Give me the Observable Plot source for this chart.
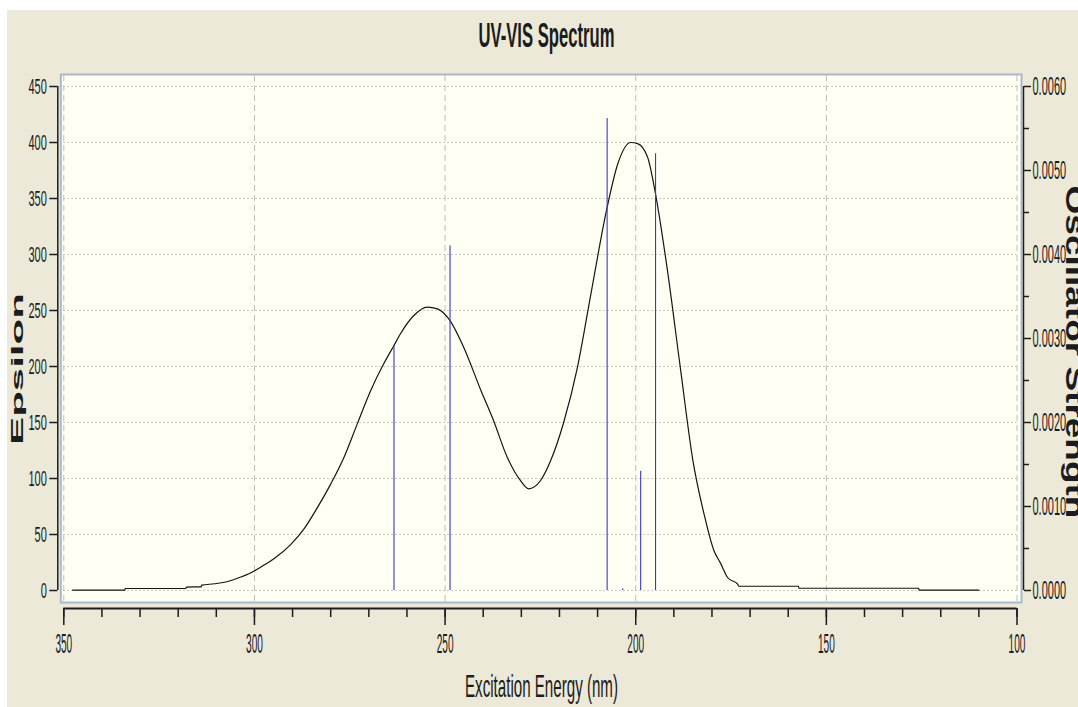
<!DOCTYPE html>
<html>
<head>
<meta charset="utf-8">
<script src="https://cdn.jsdelivr.net/npm/d3@7"></script>
<script src="https://cdn.jsdelivr.net/npm/@observablehq/plot@0.6"></script>
<style>
  html, body { margin: 0; padding: 0; background: #ffffff; }
  #wrap { position: relative; width: 1078px; height: 707px; overflow: hidden; background: #ffffff; }
  #panel { position: absolute; left: 7px; top: 10px; right: 0; bottom: 0; background: #ECE9D8; }
  #chart { position: absolute; left: 0; top: 0; }
</style>
</head>
<body>
<div id="wrap">
  <div id="panel"></div>
  <div id="chart"></div>
</div>
<script>
// Simulated absorption envelope (wavelength in nm, molar absorptivity epsilon)
const curveNm = [
  347.7, 334.0, 333.9, 318.0, 317.8, 314.0, 313.8, 310.5, 307.0, 303.6,
  300.0, 298.4, 294.9, 290.5, 287.0, 283.5, 280.0, 276.5, 273.0, 269.5,
  266.1, 263.4, 261.7, 258.2, 254.7, 252.0, 248.7, 245.1, 240.6, 237.3,
  233.7, 230.2, 228.1, 225.0, 222.3, 218.9, 215.3, 211.9, 207.5, 204.7,
  201.3, 199.5, 196.9, 194.8, 191.8, 188.3, 185.0, 182.1, 179.5, 177.7,
  175.9, 173.2, 173.0, 157.3, 157.2, 125.8, 125.7, 110.0
];
const curveEps = [
  0.3, 0.3, 1.8, 1.8, 3.0, 3.3, 4.8, 6.0, 8.0, 12.0,
  17.5, 20.8, 28.3, 41.0, 55.0, 74.0, 95.0, 119.0, 149.0, 178.6,
  202.4, 218.8, 229.2, 245.5, 253.0, 251.5, 241.0, 217.0, 178.6, 151.8,
  119.0, 98.0, 90.8, 98.0, 116.0, 150.0, 199.0, 262.0, 342.0, 381.0,
  400.0, 399.0, 387.0, 354.0, 288.7, 199.0, 116.0, 68.5, 35.7, 24.0,
  11.6, 5.4, 3.8, 3.8, 2.0, 2.0, 0.3, 0.3
];

// Computed transitions (wavelength in nm, oscillator strength)
const barNm = [263.4, 248.7, 207.5, 203.4, 198.7, 194.8];
const barStrength = [0.00292, 0.00410, 0.00562, 0.00002, 0.00142, 0.00520];

// Axis ticks
const nmTicks = [350, 300, 250, 200, 150, 100];
const nmMinorTicks = d3.range(100, 351, 10);
const epsTicks = [0, 50, 100, 150, 200, 250, 300, 350, 400, 450];
const strengthTicks = [0, 0.001, 0.002, 0.003, 0.004, 0.005, 0.006];
const strengthMinorTicks = [0.0005, 0.0015, 0.0025, 0.0035, 0.0045, 0.0055];

// The right-hand axis shares the epsilon scale: 0.006 lines up with 450
const EPS_PER_STRENGTH = 450 / 0.006;

const curve = curveNm.map((nm, i) => ({nm, eps: curveEps[i]}));
const bars = barNm.map((nm, i) => ({nm, strength: barStrength[i]}));

const FONT = "'Liberation Sans', Arial, sans-serif";
const INK = "#1c1c1c";

const plot = Plot.plot({
  width: 1078,
  height: 707,
  marginLeft: 63.3,
  marginRight: 61.5,
  marginTop: 86,
  marginBottom: 117,
  style: {background: "transparent", fontFamily: FONT, color: INK, overflow: "hidden"},
  x: {domain: [350, 100]},
  y: {domain: [0, 450]},
  marks: [
    // plot area
    Plot.frame({fill: "#FFFFF4", stroke: "#A9BACB", strokeWidth: 2,
      insetLeft: -3, insetRight: -4.5, insetTop: -12, insetBottom: -12}),
    // grids
    Plot.gridX({ticks: nmTicks, stroke: "#BDBDBD", strokeOpacity: 1, strokeDasharray: "6,4",
      insetTop: -11, insetBottom: -11}),
    Plot.gridY({ticks: epsTicks, stroke: "#B8B8B8", strokeOpacity: 1, strokeDasharray: "1.5,2.5"}),
    // absorption envelope (wavelength runs right-to-left, so screen x increases along the data)
    Plot.line(curve, {x: "nm", y: "eps", stroke: "#151515", strokeWidth: 1.2, curve: "monotone-x"}),
    // oscillator strength sticks
    Plot.ruleX(bars, {x: "nm", y1: 0, y2: d => d.strength * EPS_PER_STRENGTH,
      stroke: "#3A3ABE", strokeWidth: 1.1}),
    // left axis (epsilon)
    Plot.ruleX([350], {y1: 0, y2: 450, dx: -6, stroke: INK, strokeWidth: 1.5}),
    Plot.axisY({ticks: epsTicks, tickSize: 8, tickPadding: 3, dx: -6, label: null,
      fontSize: 22, strokeWidth: 1.5}),
    // right axis (oscillator strength)
    Plot.ruleX([100], {y1: 0, y2: 450, dx: 6.5, stroke: INK, strokeWidth: 1.5}),
    Plot.axisY({anchor: "right", ticks: strengthTicks.map(f => f * EPS_PER_STRENGTH),
      tickFormat: d => (d / EPS_PER_STRENGTH).toFixed(4),
      tickSize: 7, tickPadding: 2, dx: 6.5, label: null, fontSize: 25, strokeWidth: 1.5}),
    Plot.axisY({anchor: "right", ticks: strengthMinorTicks.map(f => f * EPS_PER_STRENGTH),
      tickFormat: () => "", tickSize: 5, dx: 6.5, label: null, strokeWidth: 1.5}),
    // bottom axis (wavelength)
    Plot.ruleY([0], {x1: 350, x2: 100, dy: 18, stroke: INK, strokeWidth: 2}),
    Plot.axisX({ticks: nmTicks, tickFormat: d3.format("d"), tickSize: 17, tickPadding: 8,
      dy: 18, label: null, fontSize: 28, strokeWidth: 1.5}),
    Plot.axisX({ticks: nmMinorTicks, tickFormat: () => "", tickSize: 9, dy: 18,
      label: null, strokeWidth: 1.5})
  ]
});

document.getElementById("chart").appendChild(plot);

// Narrow glyphs: squeeze tick labels horizontally about their anchors
function squeeze(nodes, sx) {
  nodes.forEach(t => {
    const tr = t.getAttribute("transform") || "";
    t.setAttribute("transform", `${tr} scale(${sx},1)`);
  });
}
squeeze(plot.querySelectorAll('g[aria-label="x-axis tick label"] text'), 0.36);
plot.querySelectorAll('g[aria-label="y-axis tick label"]').forEach(g => {
  const right = g.getAttribute("text-anchor") === "start";
  squeeze(g.querySelectorAll("text"), right ? 0.44 : 0.5);
});

// Titles
const svg = d3.select(plot);
svg.append("text")
  .attr("transform", "translate(546.5,47) scale(0.476,1)")
  .attr("text-anchor", "middle").attr("font-weight", "bold")
  .attr("font-size", 35).attr("fill", INK)
  .text("UV-VIS Spectrum");
svg.append("text")
  .attr("transform", "translate(541.5,696.7) scale(0.473,1)")
  .attr("text-anchor", "middle")
  .attr("font-size", 32).attr("fill", INK)
  .text("Excitation Energy (nm)");
svg.append("text")
  .attr("transform", "translate(22.7,369) rotate(-90) scale(1,0.38)")
  .attr("text-anchor", "middle").attr("font-weight", "bold")
  .attr("font-size", 42).attr("fill", INK)
  .text("Epsilon");
svg.append("text")
  .attr("transform", "translate(1066,352) rotate(90) scale(1,0.72)")
  .attr("text-anchor", "middle").attr("font-weight", "bold")
  .attr("font-size", 37).attr("fill", INK)
  .text("Oscillator Strength");
</script>
</body>
</html>
